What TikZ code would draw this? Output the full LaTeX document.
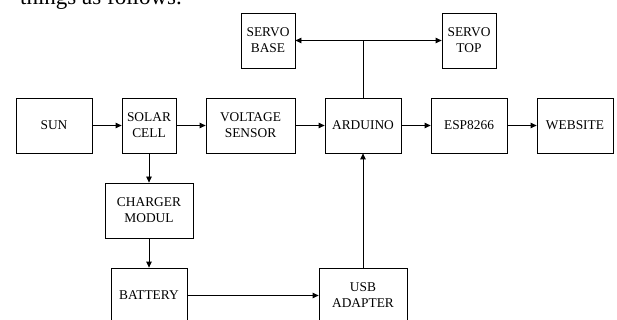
\documentclass[tikz,border=0pt]{standalone}
\usepackage{fontspec}
\setmainfont{Liberation Serif}
\usetikzlibrary{arrows.meta,positioning}

\begin{document}
\begin{tikzpicture}[
  node distance=29.2pt,
  block/.style={draw, line width=0.8pt, align=center, minimum width=76pt,
    minimum height=55pt, inner sep=2pt, font=\fontsize{13.4}{16}\selectfont},
  arrow/.style={-{Triangle[length=6pt,width=5.5pt]}, line width=0.8pt},
  wire/.style={line width=0.8pt}
]
\useasboundingbox (0,0) rectangle (617pt,-320pt);

\node[anchor=base west, inner sep=0pt, font=\fontsize{23}{28}\selectfont]
  (intro) at (20pt,-5pt) {things as follows.};

% main row
\node[block] (sun) at (54pt,-125.5pt) {SUN};
\node[block, minimum width=54pt, right=of sun] (solar) {SOLAR\\CELL};
\node[block, minimum width=89pt, right=of solar] (volt) {VOLTAGE\\SENSOR};
\node[block, right=of volt] (arduino) {ARDUINO};
\node[block, right=of arduino] (esp) {ESP8266};
\node[block, right=of esp] (web) {WEBSITE};

% servos
\node[block, minimum width=54pt, above=of volt.north east, anchor=south east] (servobase) {SERVO\\BASE};
\node[block, minimum width=54pt, above=of esp] (servotop) {SERVO\\TOP};
\coordinate (split) at (arduino |- servobase);

% power
\node[block, minimum width=88pt, below=of solar] (charger) {CHARGER\\MODUL};
\node[block, below=of charger] (battery) {BATTERY};
\node[block, minimum width=88pt] (usb) at (arduino |- battery) {USB\\ADAPTER};

\draw[arrow] (sun) -- (solar);
\draw[arrow] (solar) -- (volt);
\draw[arrow] (volt) -- (arduino);
\draw[arrow] (arduino) -- (esp);
\draw[arrow] (esp) -- (web);
\draw[wire] (arduino) -- (split);
\draw[arrow] (split) -- (servobase);
\draw[arrow] (split) -- (servotop);
\draw[arrow] (solar) -- (charger);
\draw[arrow] (charger) -- (battery);
\draw[arrow] (battery) -- (usb);
\draw[arrow] (usb) -- (arduino);
\end{tikzpicture}
\end{document}
